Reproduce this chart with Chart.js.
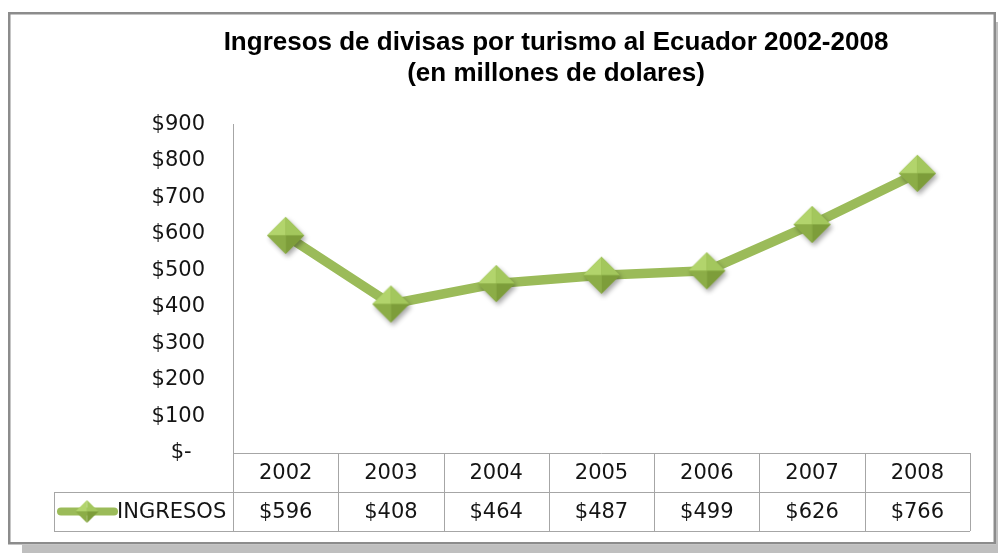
<!DOCTYPE html>
<html>
<head>
<meta charset="utf-8">
<script src="https://cdn.jsdelivr.net/npm/chart.js@4.4.1/dist/chart.umd.min.js"></script>
<style>
  html, body { margin: 0; padding: 0; background: #ffffff; }
  #wrap { position: relative; width: 998px; height: 553px; }
  canvas { display: block; }
</style>
</head>
<body>
<div id="wrap"><canvas id="c" width="998" height="553"></canvas></div>
<script>
// ---- data ----
const years = ['2002', '2003', '2004', '2005', '2006', '2007', '2008'];
const ingresos = [596, 408, 464, 487, 499, 626, 766];
const valueLabels = ['$596', '$408', '$464', '$487', '$499', '$626', '$766'];
const seriesName = 'INGRESOS';
const yTickLabels = ['$-  ', '$100', '$200', '$300', '$400', '$500', '$600', '$700', '$800', '$900'];
const titleLines = ['Ingresos de divisas por turismo al Ecuador 2002-2008', '(en millones de dolares)'];

const GREEN = '#9BBB59';
const GRID = '#a6a6a6';
const TXT_FONT = '"DejaVu Sans", sans-serif';
const TXT_SIZE = 21;

// bevelled diamond marker image
function makeDiamond(r, shadow) {
  const m = shadow ? 7 : 2;
  const s = Math.ceil(2 * (r + m));
  const cv = document.createElement('canvas');
  cv.width = s; cv.height = s;
  const g = cv.getContext('2d');
  const c = s / 2;
  if (shadow) {
    g.save();
    g.shadowColor = 'rgba(0,0,0,0.35)';
    g.shadowBlur = 5;
    g.shadowOffsetX = 2;
    g.shadowOffsetY = 3;
    g.beginPath();
    g.moveTo(c, c - r); g.lineTo(c + r, c); g.lineTo(c, c + r); g.lineTo(c - r, c); g.closePath();
    g.fillStyle = '#8fb04a';
    g.fill();
    g.restore();
  }
  const T = [c, c - r], R = [c + r, c], B = [c, c + r], L = [c - r, c], C = [c, c];
  const tri = (a, b, col) => {
    g.beginPath(); g.moveTo(a[0], a[1]); g.lineTo(b[0], b[1]); g.lineTo(C[0], C[1]); g.closePath();
    g.fillStyle = col; g.fill();
  };
  tri(L, T, '#b2d46c');
  tri(T, R, '#a3c75d');
  tri(R, B, '#7d9d3a');
  tri(B, L, '#8cad47');
  return cv;
}
const bigDiamond = makeDiamond(18.5, true);
const smallDiamond = makeDiamond(11.5, false);

const framePlugin = {
  id: 'frame',
  beforeDraw(chart) {
    const ctx = chart.ctx;
    ctx.save();
    ctx.fillStyle = '#ffffff';
    ctx.fillRect(0, 0, chart.width, chart.height);
    // shadow
    ctx.fillStyle = '#bfbfbf';
    ctx.fillRect(22, 545, 976, 8);
    ctx.fillRect(996, 22, 2, 531);
    // frame
    ctx.strokeStyle = '#8c8c8c';
    ctx.lineWidth = 2.5;
    ctx.strokeRect(9.25, 13.25, 985.5, 530);
    ctx.restore();
  }
};

const tablePlugin = {
  id: 'dataTable',
  afterDraw(chart) {
    const ctx = chart.ctx;
    const xs = chart.scales.x;
    const area = chart.chartArea;
    const n = years.length;
    const colW = (area.right - area.left) / n;
    const top = area.bottom;
    const rowH = 39;
    const mid = top + rowH;
    const bot = top + 2 * rowH;
    const legLeft = 54;
    ctx.save();
    ctx.strokeStyle = GRID;
    ctx.lineWidth = 1;
    ctx.beginPath();
    // horizontal lines
    ctx.moveTo(area.left, top + 0.5); ctx.lineTo(area.right, top + 0.5);
    ctx.moveTo(legLeft, mid + 0.5); ctx.lineTo(area.right, mid + 0.5);
    ctx.moveTo(legLeft, bot + 0.5); ctx.lineTo(area.right, bot + 0.5);
    // vertical lines
    for (let i = 0; i <= n; i++) {
      const x = Math.round(area.left + i * colW) + 0.5;
      ctx.moveTo(x, i === 0 ? area.top : top); ctx.lineTo(x, bot);
    }
    ctx.moveTo(legLeft + 0.5, mid); ctx.lineTo(legLeft + 0.5, bot);
    ctx.stroke();

    ctx.fillStyle = '#141414';
    ctx.font = TXT_SIZE + 'px ' + TXT_FONT;
    ctx.textAlign = 'center';
    ctx.textBaseline = 'middle';
    for (let i = 0; i < n; i++) {
      const x = xs.getPixelForValue(i);
      ctx.fillText(years[i], x, top + rowH / 2 + 1);
      ctx.fillText(valueLabels[i], x, mid + rowH / 2 + 1);
    }
    // legend key
    const ly = mid + rowH / 2;
    ctx.strokeStyle = GREEN;
    ctx.lineWidth = 8;
    ctx.lineCap = 'round';
    ctx.beginPath(); ctx.moveTo(61, ly); ctx.lineTo(114, ly); ctx.stroke();
    ctx.drawImage(smallDiamond, 87 - smallDiamond.width / 2, ly - smallDiamond.height / 2);
    ctx.textAlign = 'left';
    ctx.fillText(seriesName, 117, ly + 1);
    ctx.restore();
  }
};

new Chart(document.getElementById('c'), {
  type: 'line',
  data: {
    labels: years,
    datasets: [{
      label: seriesName,
      data: ingresos,
      borderColor: GREEN,
      backgroundColor: GREEN,
      borderWidth: 9.5,
      borderJoinStyle: 'round',
      borderCapStyle: 'round',
      tension: 0,
      pointStyle: bigDiamond,
      pointRadius: 18,
      pointHoverRadius: 18
    }]
  },
  options: {
    responsive: false,
    animation: false,
    events: [],
    layout: { padding: { left: 142, right: 28, top: 0, bottom: 100 } },
    plugins: {
      legend: { display: false },
      tooltip: { enabled: false },
      title: {
        display: true,
        text: titleLines,
        color: '#000000',
        font: { family: '"Liberation Sans", Arial, sans-serif', size: 26, weight: 'bold', lineHeight: 1.2 },
        padding: { top: 27, bottom: 35 }
      }
    },
    scales: {
      x: {
        offset: true,
        grid: { display: false, drawTicks: false },
        border: { display: false },
        ticks: { display: false },
        afterFit(s) { s.height = 0; }
      },
      y: {
        min: 0,
        max: 900,
        grid: { display: false, drawTicks: false },
        border: { display: true, color: GRID, width: 1 },
        ticks: {
          stepSize: 100,
          padding: 28,
          color: '#141414',
          font: { family: TXT_FONT, size: TXT_SIZE },
          callback: (v) => yTickLabels[Math.round(v / 100)]
        },
        afterFit(s) { s.width = 91; }
      }
    }
  },
  plugins: [framePlugin, tablePlugin]
});
</script>
</body>
</html>
